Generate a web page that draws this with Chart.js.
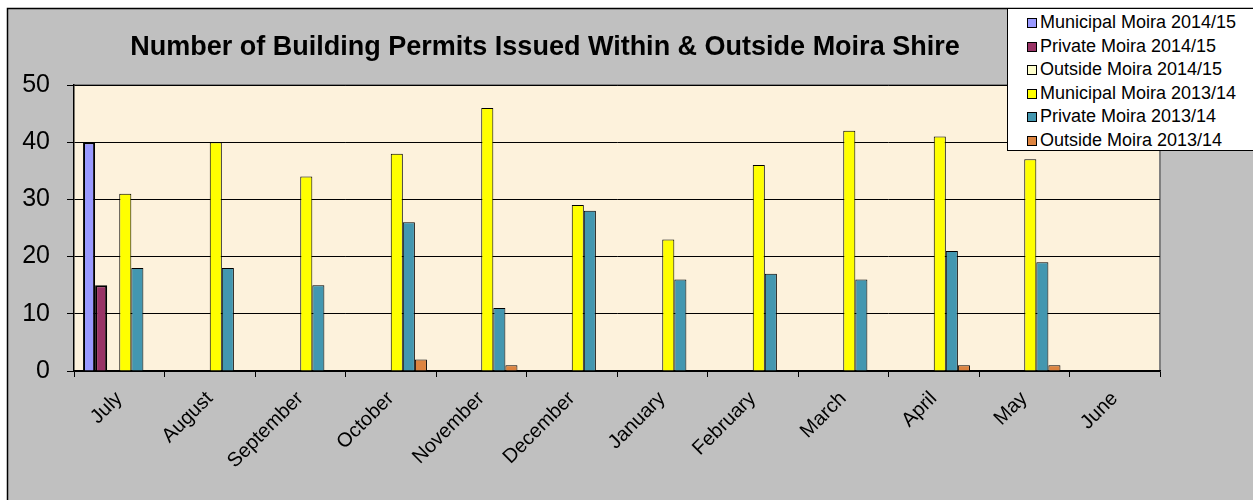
<!DOCTYPE html>
<html>
<head>
<meta charset="utf-8">
<script src="https://cdn.jsdelivr.net/npm/chart.js@4.4.1/dist/chart.umd.min.js"></script>
<style>
    body { margin: 0; background: #ffffff; }
    #wrap { position: relative; width: 1253px; height: 500px; overflow: hidden; }
    #legend {
        position: absolute; left: 1007px; top: 8px; width: 260px; height: 143px;
        background: #ffffff; border: 1px solid #000; box-sizing: border-box;
        font-family: "Liberation Sans", Arial, sans-serif; font-size: 18px; color: #000;
        padding-top: 2px;
    }
    .item { height: 23.5px; line-height: 23.5px; white-space: nowrap; padding-left: 19px; }
    .box { display: inline-block; width: 8px; height: 8px; border: 1px solid #000; margin-right: 3px; vertical-align: 0px; }
</style>
</head>
<body>
<div id="wrap">
    <canvas id="chart" width="1253" height="500"></canvas>
    <div id="legend"></div>
</div>
<script>
const months = ['July', 'August', 'September', 'October', 'November', 'December',
    'January', 'February', 'March', 'April', 'May', 'June'];

const municipal1415 = [40, null, null, null, null, null, null, null, null, null, null, null];
const private1415 = [15, null, null, null, null, null, null, null, null, null, null, null];
const outside1415 = [0, null, null, null, null, null, null, null, null, null, null, null];
const municipal1314 = [31, 40, 34, 38, 46, 29, 23, 36, 42, 41, 37, null];
const private1314 = [18, 18, 15, 26, 11, 28, 16, 17, 16, 21, 19, null];
const outside1314 = [0, 0, 0, 2, 1, 0, 0, 0, 0, 1, 1, null];

const yTicks = [0, 10, 20, 30, 40, 50];

const titleText = 'Number of Building Permits Issued Within & Outside Moira Shire';
const FONT = '"Liberation Sans", Arial, sans-serif';

const series = [
    { label: 'Municipal Moira 2014/15', data: municipal1415, color: '#9999ff', border: 2 },
    { label: 'Private Moira 2014/15', data: private1415, color: '#993366', border: 2 },
    { label: 'Outside Moira 2014/15', data: outside1415, color: '#ffffcc', border: 2 },
    { label: 'Municipal Moira 2013/14', data: municipal1314, color: '#ffff00', border: 1 },
    { label: 'Private Moira 2013/14', data: private1314, color: '#4397b0', border: 1 },
    { label: 'Outside Moira 2013/14', data: outside1314, color: '#dd8440', border: 1 }
];

// fond gris, cadre, zone de tracé crème, titre
const backdrop = {
    id: 'backdrop',
    beforeDraw(chart) {
        const ctx = chart.ctx;
        const a = chart.chartArea;
        ctx.save();
        ctx.fillStyle = '#ffffff';
        ctx.fillRect(0, 0, chart.width, chart.height);
        ctx.fillStyle = '#c0c0c0';
        ctx.fillRect(7, 8, chart.width, chart.height);
        ctx.strokeStyle = '#000';
        ctx.lineWidth = 1.5;
        ctx.strokeRect(7.5, 8.5, chart.width + 10, chart.height + 10);
        ctx.fillStyle = '#fdf2dc';
        ctx.fillRect(a.left, a.top, a.right - a.left, a.bottom - a.top);
        ctx.strokeStyle = '#808080';
        ctx.lineWidth = 2;
        ctx.beginPath();
        ctx.moveTo(a.left, a.top);
        ctx.lineTo(a.right, a.top);
        ctx.lineTo(a.right, a.bottom);
        ctx.stroke();
        ctx.fillStyle = '#000';
        ctx.font = 'bold 27px ' + FONT;
        ctx.textAlign = 'center';
        ctx.textBaseline = 'middle';
        ctx.fillText(titleText, 545, 48);
        ctx.restore();
    }
};

const chart = new Chart(document.getElementById('chart'), {
    type: 'bar',
    data: {
        labels: months,
        datasets: series.map(s => ({
            label: s.label,
            data: s.data,
            backgroundColor: s.color,
            borderColor: '#000',
            borderWidth: s.border,
            borderSkipped: 'bottom',
            categoryPercentage: 0.8,
            barPercentage: 1.0
        }))
    },
    options: {
        responsive: false,
        animation: false,
        layout: { padding: { left: 0, top: 85, right: 93, bottom: 0 } },
        plugins: {
            legend: { display: false },
            title: { display: false },
            tooltip: { enabled: false }
        },
        scales: {
            x: {
                afterFit: s => { s.height = 129; },
                grid: { offset: true, drawOnChartArea: false, color: '#000', tickLength: 6, tickColor: '#000' },
                border: { color: '#000', width: 1.5 },
                ticks: {
                    color: '#000', font: { family: FONT, size: 20 },
                    maxRotation: 45, minRotation: 45, padding: 10
                }
            },
            y: {
                min: 0, max: 50,
                afterFit: s => { s.width = 74; },
                afterBuildTicks: s => { s.ticks = yTicks.map(v => ({ value: v })); },
                grid: { color: '#000', lineWidth: 1, tickLength: 7, tickColor: '#000' },
                border: { color: '#000', width: 1.5 },
                ticks: { color: '#000', font: { family: FONT, size: 25 }, padding: 17 }
            }
        }
    },
    plugins: [backdrop]
});

// légende HTML
const legendEl = document.getElementById('legend');
series.forEach(s => {
    const row = document.createElement('div');
    row.className = 'item';
    row.innerHTML = `<span class="box" style="background:${s.color}"></span>${s.label}`;
    legendEl.appendChild(row);
});
</script>
</body>
</html>
